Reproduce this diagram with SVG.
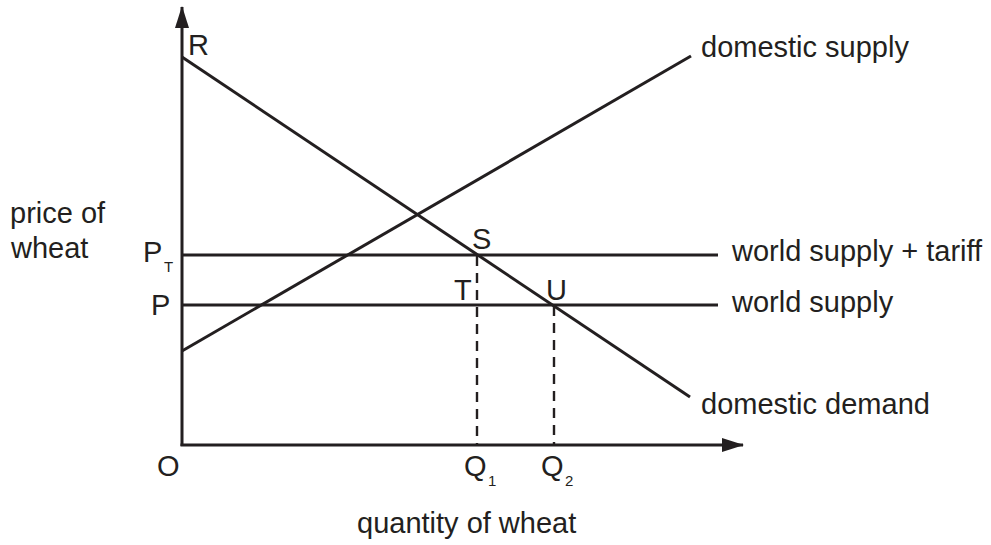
<svg xmlns="http://www.w3.org/2000/svg" width="991" height="545" viewBox="0 0 991 545">
<style>
text{font-family:"Liberation Sans",Arial,sans-serif;font-size:29px;fill:#231f20}
.sub{font-size:15px}
.ln{stroke:#231f20;stroke-width:3;fill:none}
.dash{stroke:#231f20;stroke-width:2.4;stroke-dasharray:10,7;fill:none}
</style>
<defs>
<marker id="ah" markerWidth="22" markerHeight="14" refX="21" refY="7" orient="auto" markerUnits="userSpaceOnUse">
<path d="M0,0 L22,7 L0,14 Z" fill="#231f20"/>
</marker>
</defs>
<rect width="991" height="545" fill="#fff"/>
<g id="connectors">
<line id="y-axis" class="ln" x1="182" y1="446" x2="182" y2="7" marker-end="url(#ah)"/>
<line id="x-axis" class="ln" x1="180.5" y1="445" x2="743" y2="445" marker-end="url(#ah)"/>
<line id="demand" class="ln" x1="182" y1="57" x2="690" y2="397"/>
<line id="supply" class="ln" x1="182" y1="351" x2="691" y2="56"/>
<line id="world-tariff" class="ln" x1="182" y1="255" x2="718" y2="255"/>
<line id="world" class="ln" x1="182" y1="305" x2="718" y2="305"/>
<line class="dash" x1="477" y1="256" x2="477" y2="444"/>
<line class="dash" x1="554" y1="306" x2="554" y2="444"/>
</g>
<g id="labels">
<text x="188" y="55">R</text>
<text x="701" y="57">domestic supply</text>
<text x="732" y="261">world supply + tariff</text>
<text x="732" y="312">world supply</text>
<text x="701" y="414">domestic demand</text>
<text x="10" y="223">price of</text>
<text x="11" y="258">wheat</text>
<text x="143" y="262">P</text>
<text class="sub" x="164" y="272">T</text>
<text x="151" y="315">P</text>
<text x="157" y="476">O</text>
<text x="464" y="476">Q</text>
<text class="sub" x="488" y="486">1</text>
<text x="541" y="476">Q</text>
<text class="sub" x="565" y="486">2</text>
<text x="357" y="533">quantity of wheat</text>
<text x="472" y="249">S</text>
<text x="454" y="300">T</text>
<text x="546" y="300">U</text>
</g>
</svg>
